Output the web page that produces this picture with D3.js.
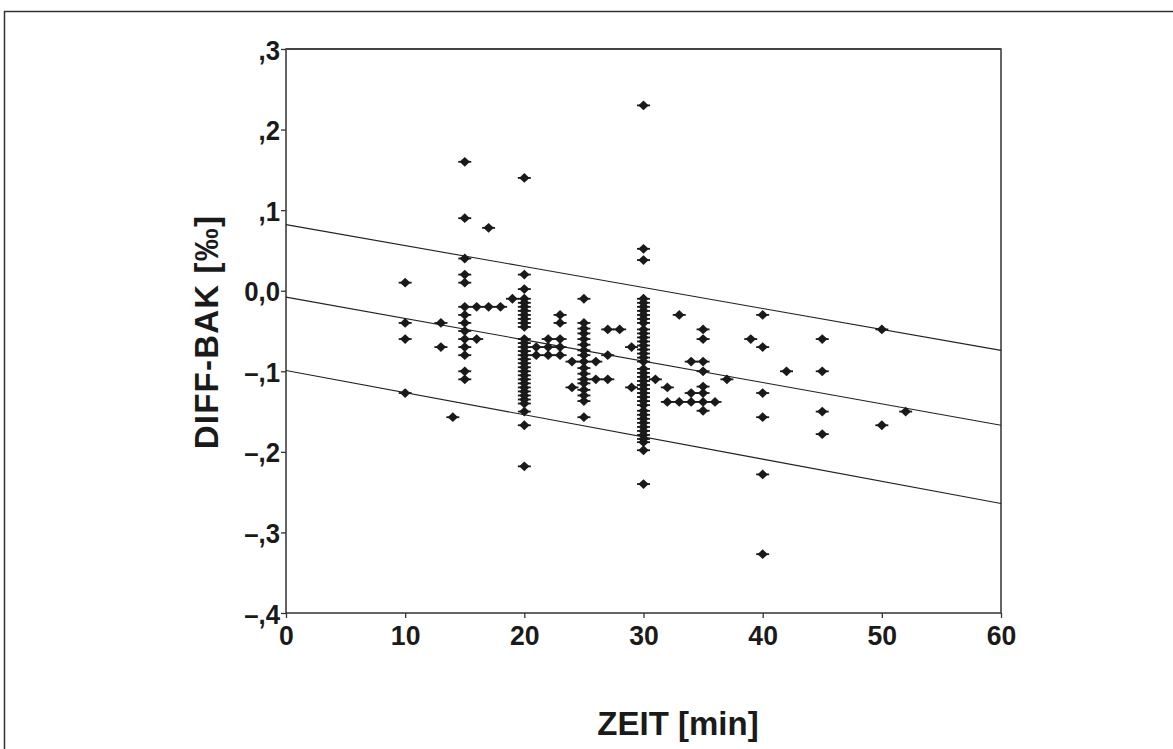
<!DOCTYPE html>
<html>
<head>
<meta charset="utf-8">
<script src="https://cdn.jsdelivr.net/npm/d3@7"></script>
<style>
  body { margin: 0; background: #fff; }
  svg { display: block; }
  .tick-label { font-family: "Liberation Sans", Arial, Helvetica, sans-serif; font-weight: bold; font-size: 28px; fill: #1a1a1a; }
  .axis-title { font-family: "Liberation Sans", Arial, Helvetica, sans-serif; font-weight: bold; font-size: 33px; fill: #1a1a1a; }
</style>
</head>
<body>
<svg id="chart" width="1173" height="749"></svg>
<script>
// axis ticks
const xTicks = [0, 10, 20, 30, 40, 50, 60];
const yTicks = [0.3, 0.2, 0.1, 0, -0.1, -0.2, -0.3, -0.4];

// regression line and prediction bands, read at these times
const lineZeit = [0, 20, 40, 60];
const upperBand = [0.082, 0.030, -0.022, -0.074];
const fitLine = [-0.008, -0.061, -0.114, -0.167];
const lowerBand = [-0.099, -0.154, -0.209, -0.264];

// measurements: [ZEIT min, DIFF-BAK ‰]
const messwerte = [
  [10, 0.01], [10, -0.04], [10, -0.06], [10, -0.127],
  [13, -0.04], [13, -0.07],
  [14, -0.157],
  [15, 0.16], [15, 0.09], [15, 0.04], [15, 0.02], [15, 0.01], [15, -0.02], [15, -0.03],
  [15, -0.04], [15, -0.05], [15, -0.06], [15, -0.07], [15, -0.08], [15, -0.10], [15, -0.11],
  [16, -0.02], [16, -0.06],
  [17, 0.078], [17, -0.02],
  [18, -0.02],
  [19, -0.01],
  [20, 0.14], [20, 0.02], [20, 0.002], [20, -0.01], [20, -0.015], [20, -0.02], [20, -0.025],
  [20, -0.03], [20, -0.035], [20, -0.04], [20, -0.045], [20, -0.06], [20, -0.065], [20, -0.07],
  [20, -0.075], [20, -0.08], [20, -0.085], [20, -0.09], [20, -0.095], [20, -0.10], [20, -0.105],
  [20, -0.11], [20, -0.115], [20, -0.12], [20, -0.125], [20, -0.13], [20, -0.135], [20, -0.14],
  [20, -0.15], [20, -0.167], [20, -0.218],
  [21, -0.07], [21, -0.08],
  [22, -0.06], [22, -0.07], [22, -0.08],
  [23, -0.03], [23, -0.04], [23, -0.06], [23, -0.07], [23, -0.08],
  [24, -0.088], [24, -0.12],
  [25, -0.01], [25, -0.04], [25, -0.047], [25, -0.053], [25, -0.06], [25, -0.067], [25, -0.074],
  [25, -0.08], [25, -0.088], [25, -0.096], [25, -0.103], [25, -0.11], [25, -0.115], [25, -0.123],
  [25, -0.13], [25, -0.137], [25, -0.157],
  [26, -0.088], [26, -0.11],
  [27, -0.048], [27, -0.08], [27, -0.11],
  [28, -0.048],
  [29, -0.07], [29, -0.12],
  [30, 0.23], [30, 0.052], [30, 0.038], [30, -0.01], [30, -0.015], [30, -0.02], [30, -0.025],
  [30, -0.03], [30, -0.035], [30, -0.04], [30, -0.048], [30, -0.053], [30, -0.058], [30, -0.063],
  [30, -0.068], [30, -0.073], [30, -0.078], [30, -0.083], [30, -0.088], [30, -0.097], [30, -0.102],
  [30, -0.107], [30, -0.112], [30, -0.117], [30, -0.122], [30, -0.127], [30, -0.132], [30, -0.137],
  [30, -0.142], [30, -0.149], [30, -0.154], [30, -0.159], [30, -0.164], [30, -0.169], [30, -0.174],
  [30, -0.179], [30, -0.184], [30, -0.188], [30, -0.198], [30, -0.24],
  [31, -0.11],
  [32, -0.12], [32, -0.138],
  [33, -0.03], [33, -0.138],
  [34, -0.088], [34, -0.127], [34, -0.138],
  [35, -0.048], [35, -0.06], [35, -0.088], [35, -0.10], [35, -0.119], [35, -0.127], [35, -0.138], [35, -0.149],
  [36, -0.138],
  [37, -0.11],
  [39, -0.06],
  [40, -0.03], [40, -0.07], [40, -0.127], [40, -0.157], [40, -0.228], [40, -0.327],
  [42, -0.10],
  [45, -0.06], [45, -0.10], [45, -0.15], [45, -0.178],
  [50, -0.048], [50, -0.167],
  [52, -0.15]
];

const W = 1173, H = 749;
const plot = { left: 286, right: 1001, top: 49, bottom: 613 };

const svg = d3.select('#chart');
svg.append('rect').attr('width', W).attr('height', H).attr('fill', '#fff');

// outer frame of the figure
svg.append('rect')
  .attr('x', 4.5).attr('y', 11.5)
  .attr('width', W + 20).attr('height', H + 20)
  .attr('fill', 'none').attr('stroke', '#333').attr('stroke-width', 1.5);

const x = d3.scaleLinear().domain([0, 60]).range([plot.left, plot.right]);
const y = d3.scaleLinear().domain([-0.4, 0.3]).range([plot.bottom, plot.top]);

function fmtY(v) {
  const r = Math.round(v * 10);
  if (r === 0) return '0,0';
  return (r < 0 ? '\u2013' : '') + ',' + Math.abs(r);
}

// axes
const yAxis = svg.append('g')
  .attr('transform', `translate(${plot.left},0)`)
  .call(d3.axisLeft(y).tickValues(yTicks).tickSize(5).tickPadding(3).tickFormat(fmtY));
const xAxis = svg.append('g')
  .attr('transform', `translate(0,${plot.bottom})`)
  .call(d3.axisBottom(x).tickValues(xTicks).tickSize(5).tickPadding(4).tickFormat(d3.format('d')));

[xAxis, yAxis].forEach((g) => {
  g.select('.domain').remove();
  g.selectAll('.tick line').attr('stroke', '#333').attr('stroke-width', 1.3);
  g.selectAll('.tick text').attr('class', 'tick-label').attr('font-size', null).attr('font-family', null);
});
// slightly condensed look of the original labels
yAxis.selectAll('.tick text')
  .attr('x', null).attr('dy', '0.36em')
  .attr('transform', 'translate(-6,0) scale(0.92,1)');
xAxis.selectAll('.tick text')
  .attr('y', null).attr('dy', '0.72em')
  .attr('transform', 'translate(0,12) scale(0.95,1)');

// plot box
svg.append('rect')
  .attr('x', plot.left).attr('y', plot.top)
  .attr('width', plot.right - plot.left).attr('height', plot.bottom - plot.top)
  .attr('fill', 'none').attr('stroke', '#333').attr('stroke-width', 1.5);
svg.append('line')
  .attr('x1', plot.left).attr('x2', plot.right)
  .attr('y1', plot.top).attr('y2', plot.top)
  .attr('stroke', '#444').attr('stroke-width', 2.2);

// regression lines
const line = d3.line().x((d) => x(d[0])).y((d) => y(d[1]));
[upperBand, fitLine, lowerBand].forEach((vals) => {
  svg.append('path')
    .datum(lineZeit.map((t, i) => [t, vals[i]]))
    .attr('d', line)
    .attr('fill', 'none')
    .attr('stroke', '#222')
    .attr('stroke-width', 1.1);
});

// SPSS-like diamond marker with small side stubs
const raute = {
  draw(ctx, size) {
    const r = Math.sqrt(size) / 2;
    ctx.moveTo(0, -r);
    ctx.lineTo(r * 1.05, 0);
    ctx.lineTo(0, r);
    ctx.lineTo(-r * 1.05, 0);
    ctx.closePath();
  }
};
const pts = svg.append('g');
pts.selectAll('path.pt')
  .data(messwerte)
  .join('path')
  .attr('class', 'pt')
  .attr('transform', (d) => `translate(${x(d[0])},${y(d[1])})`)
  .attr('d', d3.symbol().type(raute).size(96))
  .attr('fill', '#1a1a1a');
pts.selectAll('line.stub')
  .data(messwerte)
  .join('line')
  .attr('class', 'stub')
  .attr('x1', (d) => x(d[0]) - 6.5).attr('x2', (d) => x(d[0]) + 6.5)
  .attr('y1', (d) => y(d[1])).attr('y2', (d) => y(d[1]))
  .attr('stroke', '#1a1a1a').attr('stroke-width', 1.8);

// titles
svg.append('text')
  .attr('class', 'axis-title')
  .attr('text-anchor', 'middle')
  .attr('font-size', 34)
  .attr('letter-spacing', 1.2)
  .attr('transform', 'translate(218,332) rotate(-90)')
  .text('DIFF-BAK [‰]');
svg.append('text')
  .attr('class', 'axis-title')
  .attr('text-anchor', 'middle')
  .attr('x', 678).attr('y', 735)
  .text('ZEIT [min]');
</script>
</body>
</html>
